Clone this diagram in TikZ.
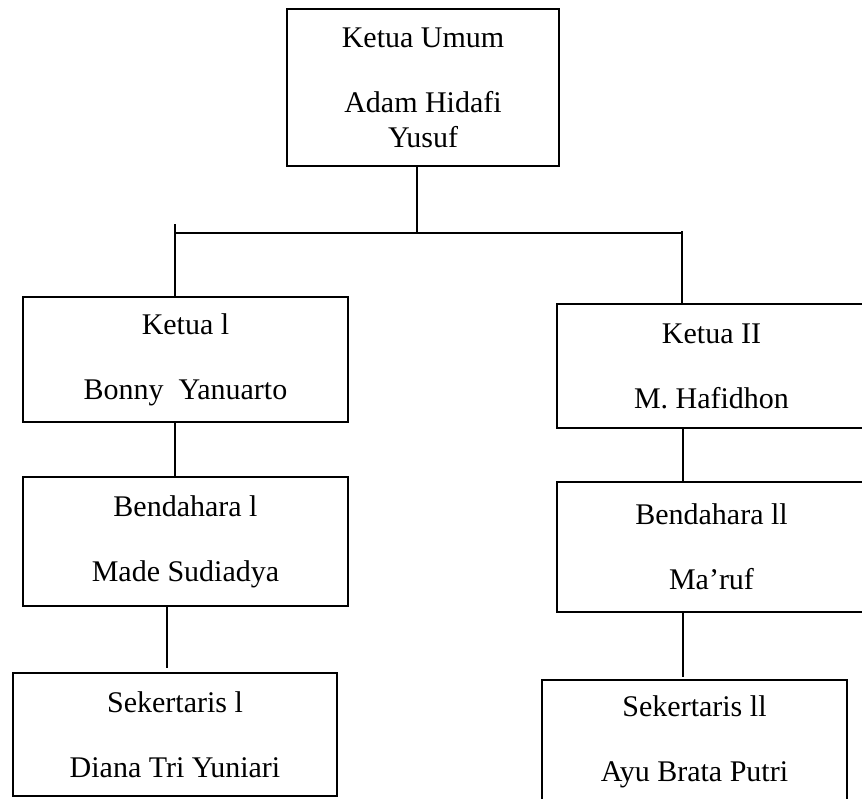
\documentclass[tikz,border=0pt]{standalone}
\usepackage{fontspec}
\setmainfont{Liberation Serif}
\begin{document}
\begin{tikzpicture}[x=1pt,y=-1pt,
  conn/.style={line width=1.8pt},
  orgbox/.style={draw,line width=1.8pt,inner sep=0pt,align=center,
    font=\fontsize{30}{35}\selectfont}]
\useasboundingbox (0,0) rectangle (862,798);
\clip (0,0) rectangle (862,798);
% boxes
\node[orgbox,minimum width=272pt,minimum height=157pt] (top) at (423,87.5)
  {Ketua Umum\\[30pt]Adam Hidafi\\Yusuf};
\node[orgbox,minimum width=325pt,minimum height=125pt] (k1) at (185.5,359.5)
  {Ketua l\\[30pt]Bonny\ \ Yanuarto};
\node[orgbox,minimum width=325pt,minimum height=129pt] (b1) at (185.5,541.5)
  {Bendahara l\\[30pt]Made Sudiadya};
\node[orgbox,minimum width=324pt,minimum height=123pt] (s1) at (175,734.5)
  {Sekertaris l\\[30pt]Diana Tri Yuniari};
\node[orgbox,minimum width=309pt,minimum height=124pt] (k2) at (711.5,366)
  {Ketua II\\[30pt]M. Hafidhon};
\node[orgbox,minimum width=309pt,minimum height=130pt] (b2) at (711.5,547)
  {Bendahara ll\\[30pt]Ma’ruf};
\node[orgbox,minimum width=305pt,minimum height=123pt] (s2) at (694.5,741.5)
  {Sekertaris ll\\[30pt]Ayu Brata Putri};
% junction coordinates
\coordinate (j) at (417,233);
\coordinate (hl) at (175,233);
\coordinate (hr) at (682,233);
\coordinate (tl) at (175,224);
\coordinate (tr) at (682,231);
\coordinate (c1) at (167,668);
\coordinate (c2) at (683,677);
% connectors
\draw[conn] (j |- top.south) -- (j);
\draw[conn] (hl) -- (hr);
\draw[conn] (tl) -- (tl |- k1.north);
\draw[conn] (tr) -- (tr |- k2.north);
\draw[conn] (k1.south -| tl) -- (b1.north -| tl);
\draw[conn] (c1 |- b1.south) -- (c1);
\draw[conn] (k2.south -| c2) -- (b2.north -| c2);
\draw[conn] (c2 |- b2.south) -- (c2);
\end{tikzpicture}
\end{document}
